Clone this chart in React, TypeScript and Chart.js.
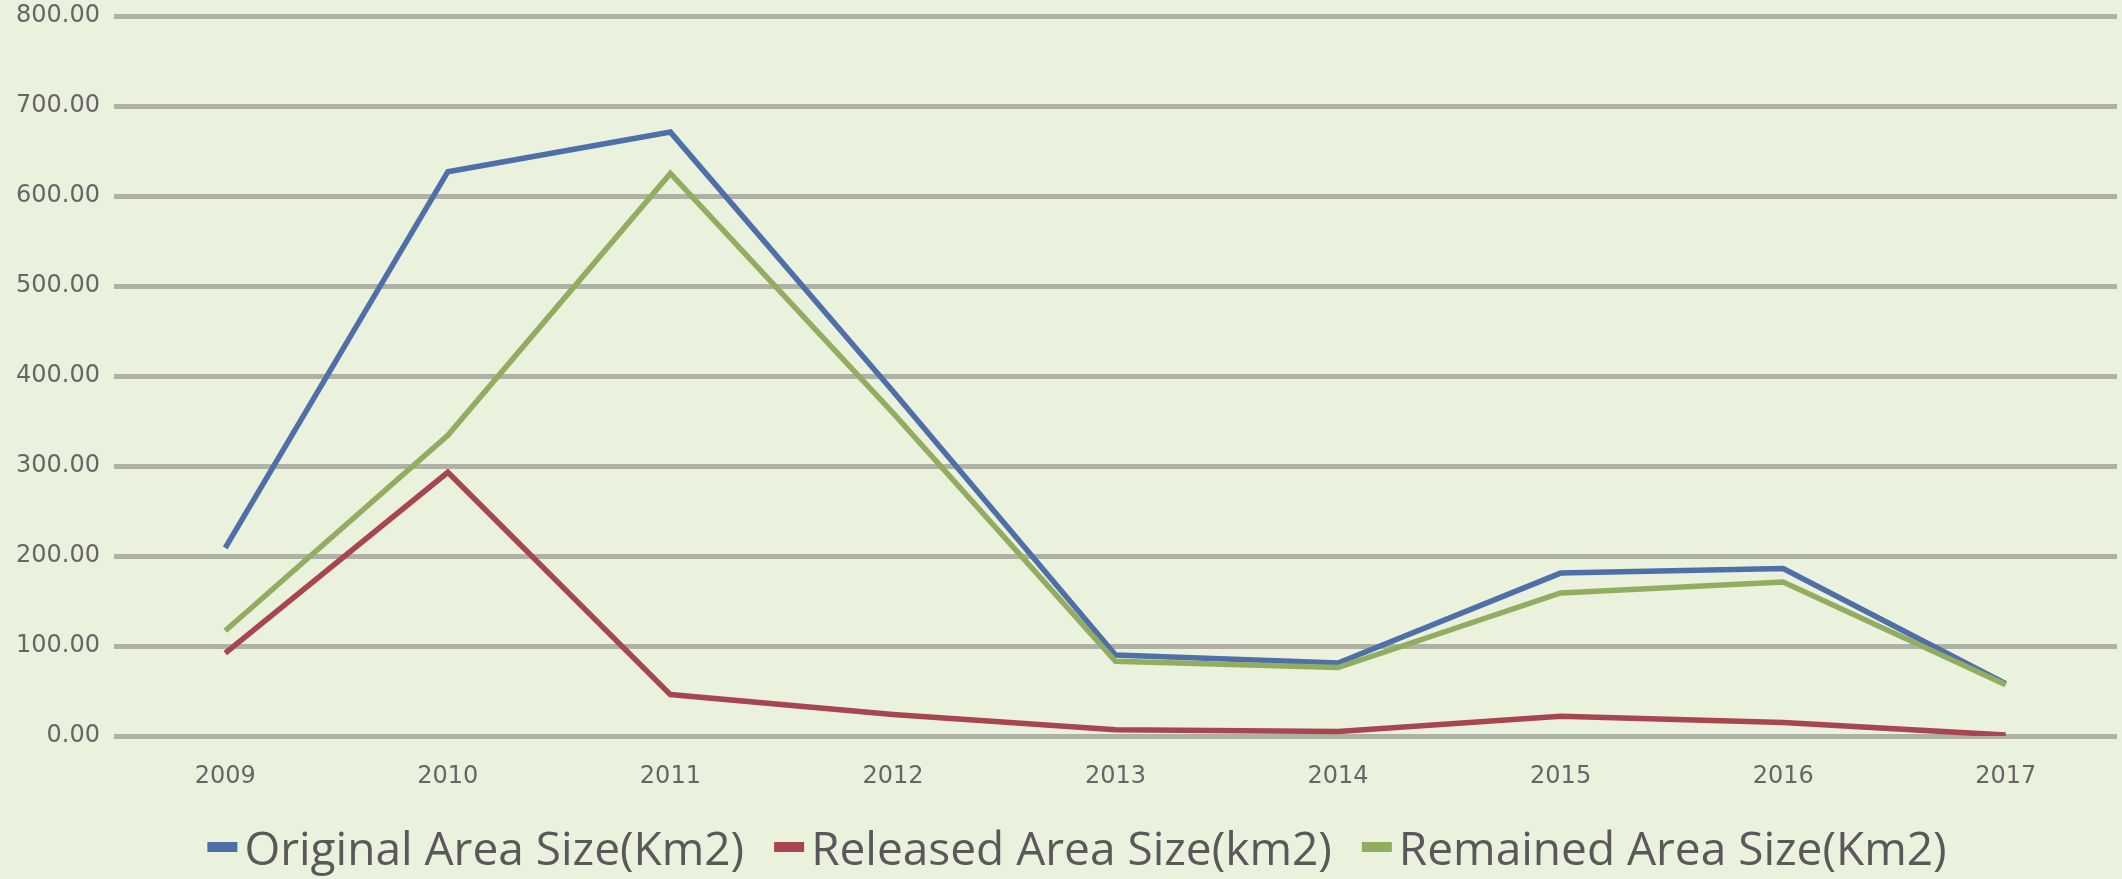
import React, { useEffect, useRef } from "react";
import { Chart, registerables } from "chart.js";

Chart.register(...registerables);

const years = ["2009", "2010", "2011", "2012", "2013", "2014", "2015", "2016", "2017"];
const originalArea = [209, 627, 671, 383, 90, 81, 181, 186, 58];
const releasedArea = [92, 293, 46, 24, 7, 5, 22, 15, 1];
const remainedArea = [117, 334, 625, 359, 83, 76, 159, 171, 57];
const seriesLabels = ["Original Area Size(Km2)", "Released Area Size(km2)", "Remained Area Size(Km2)"];
const seriesColors = ["#4e6fa8", "#a84650", "#93ad60"];

const W = 2122;
const H = 879;
const BG = "#eaf1dd";

const backgroundPlugin = {
  id: "bgFill",
  beforeDraw(chart: any) {
    const ctx = chart.ctx;
    ctx.save();
    ctx.fillStyle = BG;
    ctx.fillRect(0, 0, chart.width, chart.height);
    ctx.restore();
  },
};

const legendPlugin = {
  id: "customLegend",
  afterDraw(chart: any) {
    const ctx = chart.ctx;
    const ds = chart.data.datasets;
    const font = "46px 'Open Sans'";
    const boxW = 30;
    const boxH = 10;
    const gap = 7;
    const spacing = 30;
    ctx.save();
    ctx.font = font;
    const widths = ds.map((d: any) => ctx.measureText(d.label).width);
    let total = 0;
    widths.forEach((w: number) => (total += boxW + gap + w));
    total += spacing * (ds.length - 1);
    let x = 1077 - total / 2;
    const baseline = 865;
    ds.forEach((d: any, i: number) => {
      ctx.fillStyle = d.borderColor;
      ctx.fillRect(x, 842, boxW, boxH);
      ctx.fillStyle = "#595959";
      ctx.textBaseline = "alphabetic";
      ctx.textAlign = "left";
      ctx.fillText(d.label, x + boxW + gap, baseline);
      x += boxW + gap + widths[i] + spacing;
    });
    ctx.restore();
  },
};

export default function App() {
  const ref = useRef<HTMLCanvasElement | null>(null);
  useEffect(() => {
    if (!ref.current) return;
    const chart = new Chart(ref.current, {
      type: "line",
      data: {
        labels: years,
        datasets: [
          { label: seriesLabels[0], data: originalArea, borderColor: seriesColors[0], backgroundColor: seriesColors[0] },
          { label: seriesLabels[1], data: releasedArea, borderColor: seriesColors[1], backgroundColor: seriesColors[1] },
          { label: seriesLabels[2], data: remainedArea, borderColor: seriesColors[2], backgroundColor: seriesColors[2] },
        ].map((d, i) => ({
          ...d,
          borderWidth: 5.5,
          pointRadius: 0,
          pointHoverRadius: 0,
          tension: 0,
          fill: false,
          order: i === 0 ? 2 : i === 2 ? 1 : 0,
        })),
      },
      options: {
        responsive: false,
        animation: false,
        layout: { padding: { top: 16, right: 5, left: 0, bottom: 0 } },
        plugins: {
          legend: { display: false },
          tooltip: { enabled: false },
          title: { display: false },
        },
        scales: {
          x: {
            type: "category",
            offset: true,
            grid: { display: false, drawTicks: false },
            border: { display: false },
            ticks: {
              color: "#666666",
              font: { family: "'DejaVu Sans'", size: 24 },
              padding: 26,
              maxRotation: 0,
              autoSkip: false,
            },
            afterFit(scale: any) {
              scale.height = 143;
              scale.paddingLeft = 0;
              scale.paddingRight = 0;
            },
          },
          y: {
            min: 0,
            max: 800,
            grid: { color: "#aeb1a4", lineWidth: 5, drawTicks: false },
            border: { display: false },
            ticks: {
              stepSize: 100,
              color: "#666666",
              font: { family: "'DejaVu Sans'", size: 24 },
              padding: 14,
              callback: (v: any) => Number(v).toFixed(2),
            },
            afterFit(scale: any) {
              scale.width = 114;
              scale.paddingTop = 0;
              scale.paddingBottom = 0;
            },
          },
        },
      },
      plugins: [backgroundPlugin, legendPlugin],
    });
    return () => chart.destroy();
  }, []);
  return (
    <div style={{ position: "fixed", left: 0, top: 0, width: W, height: H, background: BG }}>
      <canvas ref={ref} width={W} height={H} style={{ display: "block", width: W, height: H }} />
    </div>
  );
}
